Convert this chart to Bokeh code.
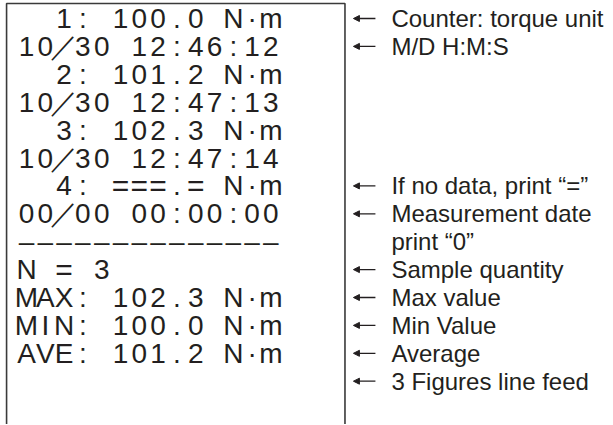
from bokeh.plotting import figure
from bokeh.models import ColumnDataSource, Range1d, Arrow, NormalHead
from bokeh.embed import file_html
from bokeh.resources import INLINE
from bokeh.core.properties import value

# ---- data: printer output (one character per fixed-pitch cell) ----
printout_lines = [
    "  1: 100.0 N·m",
    "10／30 12:46:12",
    "  2: 101.2 N·m",
    "10／30 12:47:13",
    "  3: 102.3 N·m",
    "10／30 12:47:14",
    "  4: ===.= N·m",
    "00／00 00:00:00",
    "––––––––––––––",
    "N = 3",
    "MAX: 102.3 N·m",
    "MIN: 100.0 N·m",
    "AVE: 101.2 N·m",
]

# ---- data: explanations on the right ----
label_rows = [0, 1, 6, 7, 8, 9, 10, 11, 12, 13]
label_texts = [
    "Counter: torque unit",
    "M/D H:M:S",
    "If no data, print “=”",
    "Measurement date",
    "print “0”",
    "Sample quantity",
    "Max value",
    "Min Value",
    "Average",
    "3 Figures line feed",
]
arrow_rows = [0, 1, 6, 7, 9, 10, 11, 12, 13]

# ---- layout (units: x = printer columns, y = printer rows) ----
W, H = 612, 424
COL_PX, ROW_PX = 18.8, 27.9
X0_PX, Y0_PX = 26.0, 18.0
BOX_LEFT, BOX_RIGHT, BOX_TOP = -1.06, 16.94, -0.54
ARROW_TAIL, ARROW_TIP = 18.56, 17.39
LABEL_X = 19.41
INK = "#231f20"

x_start = -X0_PX / COL_PX
y_start = -Y0_PX / ROW_PX
y_end = y_start + H / ROW_PX
p = figure(width=W, height=H, output_backend="svg", toolbar_location=None,
           x_range=Range1d(x_start, x_start + W / COL_PX),
           y_range=Range1d(y_end, y_start),
           x_axis_type=None, y_axis_type=None, min_border=0)
p.outline_line_color = None
p.background_fill_color = "white"
p.border_fill_color = "white"

# printer characters
xs, ys, chars, sizes = [], [], [], []
for r, line in enumerate(printout_lines):
    for c, ch in enumerate(line):
        if ch != " ":
            xs.append(c)
            ys.append(r)
            chars.append(ch)
            sizes.append("30px" if ch == "=" else "28px")
src = ColumnDataSource(dict(x=xs, y=ys, t=chars, s=sizes))
p.text(x="x", y="y", text="t", source=src, text_font=value("Liberation Sans"),
       text_font_size="s", text_align="center", text_baseline="middle",
       text_color=INK)

# paper outline (open at the bottom)
p.line([BOX_LEFT, BOX_LEFT, BOX_RIGHT, BOX_RIGHT],
       [y_end, BOX_TOP, BOX_TOP, y_end],
       line_color="#3a3a3a", line_width=1.6)

# arrows
asrc = ColumnDataSource(dict(xs=[ARROW_TAIL] * len(arrow_rows),
                             xe=[ARROW_TIP] * len(arrow_rows),
                             y=arrow_rows))
p.add_layout(Arrow(end=NormalHead(size=6, fill_color=INK, line_color=INK, line_width=1),
                   x_start="xs", y_start="y", x_end="xe", y_end="y",
                   source=asrc, line_color=INK, line_width=1.3))

# labels
lsrc = ColumnDataSource(dict(x=[LABEL_X] * len(label_rows), y=label_rows, t=label_texts))
p.text(x="x", y="y", text="t", source=lsrc, text_font=value("Liberation Sans"),
       text_font_size="24px", text_align="left", text_baseline="middle",
       text_color=INK)

open("out.html", "w").write(file_html(p, INLINE))
